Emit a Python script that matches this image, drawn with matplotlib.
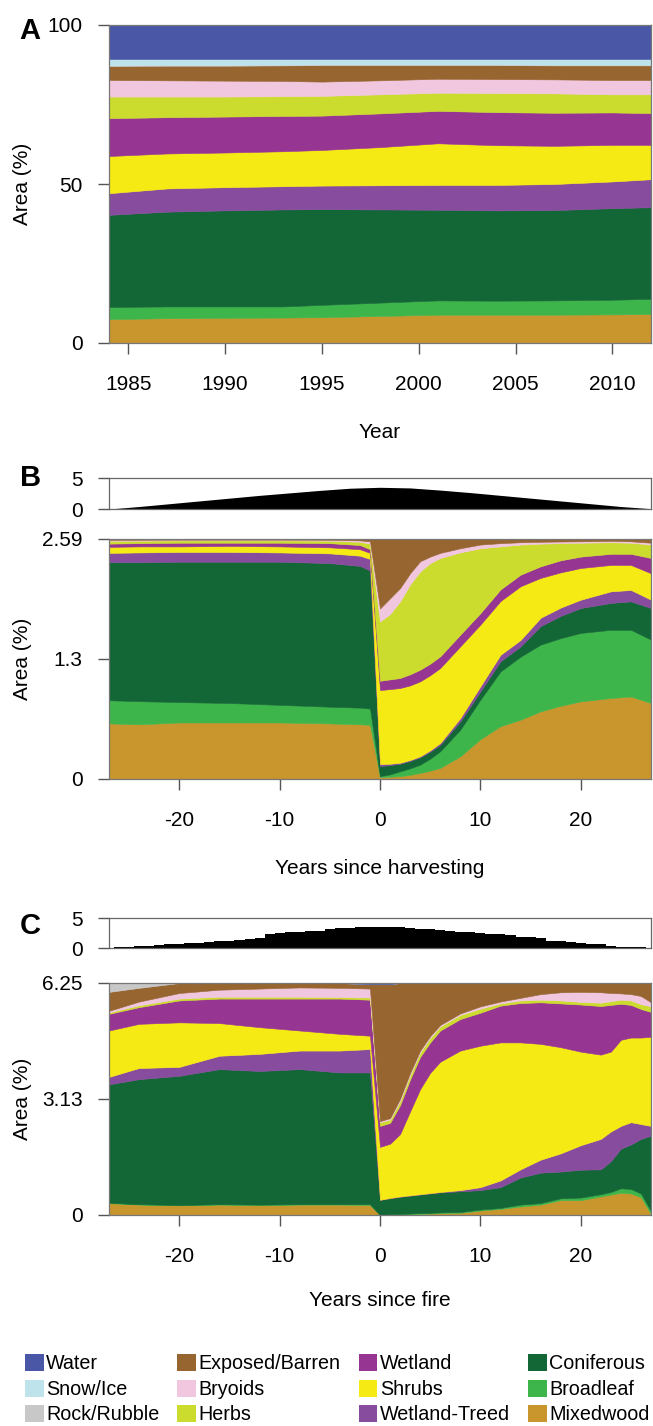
import numpy as np
import matplotlib
matplotlib.use('Agg')
import matplotlib.pyplot as plt
from matplotlib.patches import Patch

plt.rcParams['font.family'] = ['Liberation Sans', 'DejaVu Sans']
plt.rcParams['font.size'] = 15
plt.rcParams['axes.unicode_minus'] = False

# land cover classes, legend order
classes = ['Water', 'Snow/Ice', 'Rock/Rubble', 'Exposed/Barren', 'Bryoids', 'Herbs',
           'Wetland', 'Shrubs', 'Wetland-Treed', 'Coniferous', 'Broadleaf', 'Mixedwood']
class_colors = ['#4957a6', '#bfe3ea', '#c8c8c8', '#976530', '#f1c7df', '#ccdc2e',
                '#973592', '#f6ea14', '#874c9e', '#136636', '#3eb54a', '#c9952d']
col = dict(zip(classes, class_colors))

# ---- panel A: upper edge of each stacked band (% area) ----
a_years = [1984, 1987, 1990, 1993, 1995, 1998, 2001, 2004, 2007, 2010, 2012]
a_mixedwood = [7.5, 7.8, 7.9, 8.0, 8.1, 8.5, 8.9, 8.9, 8.9, 9.0, 9.1]
a_broadleaf = [11.3, 11.5, 11.5, 11.5, 12.0, 12.7, 13.4, 13.3, 13.4, 13.6, 13.9]
a_coniferous = [40.3, 41.3, 41.7, 42.0, 42.1, 42.0, 41.9, 41.7, 41.8, 42.4, 42.7]
a_wettreed = [47.1, 48.6, 49.0, 49.3, 49.5, 49.6, 49.7, 49.7, 50.0, 50.8, 51.5]
a_shrubs = [58.8, 59.6, 59.9, 60.3, 60.7, 61.6, 62.8, 62.2, 62.0, 62.3, 62.3]
a_wetland = [70.7, 71.0, 71.2, 71.4, 71.5, 72.2, 73.0, 72.6, 72.4, 72.5, 72.3]
a_herbs = [77.5, 77.5, 77.5, 77.6, 77.7, 78.2, 78.7, 78.6, 78.5, 78.2, 78.2]
a_bryoids = [82.7, 82.6, 82.5, 82.4, 82.2, 82.6, 83.1, 83.0, 82.9, 82.7, 82.7]
a_exposed = [87.1, 87.2, 87.2, 87.3, 87.4, 87.4, 87.4, 87.4, 87.3, 87.3, 87.3]
a_rock = [87.3, 87.4, 87.4, 87.5, 87.6, 87.6, 87.6, 87.6, 87.5, 87.5, 87.5]
a_snow = [89.3, 89.3, 89.3, 89.3, 89.3, 89.3, 89.3, 89.3, 89.3, 89.3, 89.3]
a_water = [100] * 11

# ---- panel B: harvesting ----
b_hist_t = [-27, -24, -21, -18, -15, -12, -9, -6, -3, 0, 3, 6, 9, 12, 15, 18, 21, 24, 27]
b_hist = [0.0, 0.4, 0.85, 1.3, 1.75, 2.2, 2.6, 3.0, 3.35, 3.5, 3.4, 3.05, 2.65, 2.2,
          1.75, 1.3, 0.85, 0.4, 0.05]

b_t = [-27, -24, -20, -15, -10, -5, -2, -1, 0, 1, 2, 3, 4, 5, 6, 8, 10, 12, 14, 16, 18,
       20, 23, 25, 27]
b_mixedwood = [0.60, 0.59, 0.61, 0.61, 0.61, 0.60, 0.59, 0.585, 0.02, 0.025, 0.03, 0.045,
               0.065, 0.09, 0.12, 0.245, 0.43, 0.57, 0.64, 0.73, 0.79, 0.838, 0.874, 0.89,
               0.82]
b_broadleaf = [0.85, 0.84, 0.83, 0.82, 0.80, 0.78, 0.77, 0.76, 0.03, 0.05, 0.083, 0.115,
               0.155, 0.22, 0.30, 0.532, 0.856, 1.16, 1.32, 1.45, 1.52, 1.576, 1.61, 1.61,
               1.504]
b_coniferous = [2.34, 2.34, 2.345, 2.345, 2.345, 2.33, 2.30, 2.25, 0.14, 0.15, 0.165, 0.195,
                0.235, 0.295, 0.37, 0.622, 0.946, 1.27, 1.43, 1.65, 1.76, 1.845, 1.90,
                1.917, 1.845]
b_wettreed = [2.44, 2.445, 2.45, 2.45, 2.445, 2.435, 2.41, 2.375, 0.16, 0.165, 0.175, 0.205,
              0.245, 0.31, 0.389, 0.658, 1.0, 1.34, 1.50, 1.74, 1.85, 1.935, 2.025, 2.04,
              1.935]
b_shrubs = [2.505, 2.51, 2.51, 2.515, 2.51, 2.50, 2.48, 2.44, 0.96, 0.97, 0.982, 1.01,
            1.054, 1.12, 1.198, 1.432, 1.666, 1.92, 2.08, 2.17, 2.23, 2.277, 2.31, 2.31, 2.22]
b_wetland = [2.54, 2.545, 2.55, 2.55, 2.55, 2.545, 2.525, 2.48, 1.06, 1.075, 1.09, 1.13,
             1.18, 1.245, 1.324, 1.558, 1.79, 2.045, 2.205, 2.295, 2.36, 2.40, 2.43, 2.43,
             2.385]
b_herbs = [2.57, 2.572, 2.575, 2.575, 2.575, 2.572, 2.56, 2.54, 1.70, 1.78, 1.917, 2.10,
           2.24, 2.33, 2.385, 2.446, 2.49, 2.51, 2.53, 2.54, 2.545, 2.55, 2.555, 2.55, 2.53]
b_bryoids = [2.58, 2.582, 2.583, 2.583, 2.583, 2.582, 2.575, 2.565, 1.84, 1.95, 2.06, 2.22,
             2.35, 2.40, 2.44, 2.49, 2.53, 2.545, 2.555, 2.56, 2.563, 2.565, 2.57, 2.565,
             2.55]
b_exposed = [2.59] * len(b_t)

# ---- panel C: fire ----
c_hist_t = list(range(-27, 28))
c_hist = [0.0, 0.1, 0.2, 0.3, 0.4, 0.5, 0.6, 0.7, 0.8, 0.9, 1.0, 1.1, 1.25, 1.4, 1.55, 1.7,
          2.4, 2.5, 2.6, 2.7, 2.8, 2.85, 3.2, 3.3, 3.4, 3.45, 3.5, 3.5, 3.5, 3.45, 3.35,
          3.25, 3.15, 3.0, 2.9, 2.75, 2.6, 2.5, 2.4, 2.3, 2.2, 1.9, 1.85, 1.75, 1.2, 1.1,
          1.0, 0.9, 0.75, 0.6, 0.4, 0.25, 0.15, 0.1, 0.05]

c_t = [-27, -24, -20, -16, -12, -8, -4, -1, 0, 1, 2, 3, 4, 5, 6, 8, 10, 12, 14, 16, 18,
       20, 22, 23, 24, 25, 26, 27]
c_mixedwood = [0.32, 0.28, 0.26, 0.28, 0.27, 0.28, 0.28, 0.27, 0.0, 0.01, 0.02, 0.02, 0.03,
               0.04, 0.05, 0.06, 0.12, 0.165, 0.23, 0.28, 0.40, 0.40, 0.50, 0.55, 0.60,
               0.58, 0.48, 0.02]
c_broadleaf = [0.33, 0.29, 0.27, 0.29, 0.28, 0.29, 0.29, 0.29, 0.0, 0.02, 0.03, 0.04, 0.05,
               0.06, 0.07, 0.08, 0.147, 0.19, 0.28, 0.32, 0.45, 0.47, 0.56, 0.62, 0.72,
               0.70, 0.58, 0.10]
c_coniferous = [3.52, 3.66, 3.75, 3.93, 3.88, 3.93, 3.84, 3.84, 0.41, 0.45, 0.49, 0.52, 0.55,
                0.58, 0.61, 0.64, 0.67, 0.75, 1.01, 1.14, 1.17, 1.22, 1.23, 1.45, 1.79,
                1.90, 2.05, 2.14]
c_wettreed = [3.72, 3.96, 3.99, 4.29, 4.34, 4.43, 4.43, 4.47, 0.41, 0.46, 0.50, 0.53, 0.56,
              0.59, 0.62, 0.67, 0.75, 0.93, 1.23, 1.49, 1.66, 1.88, 2.05, 2.25, 2.40,
              2.50, 2.45, 2.40]
c_shrubs = [4.97, 5.15, 5.19, 5.17, 5.06, 4.97, 4.88, 4.83, 1.835, 1.92, 2.18, 2.79, 3.39,
            3.83, 4.13, 4.43, 4.56, 4.65, 4.65, 4.61, 4.52, 4.40, 4.32, 4.40, 4.72, 4.78,
            4.78, 4.80]
c_wetland = [5.42, 5.60, 5.78, 5.83, 5.83, 5.83, 5.83, 5.80, 2.40, 2.48, 2.96, 3.65, 4.26,
             4.65, 4.97, 5.28, 5.45, 5.64, 5.71, 5.73, 5.70, 5.67, 5.63, 5.66, 5.69, 5.66,
             5.55, 5.47]
c_herbs = [5.46, 5.65, 5.83, 5.88, 5.88, 5.88, 5.87, 5.86, 2.50, 2.57, 3.07, 3.77, 4.38,
           4.77, 5.08, 5.39, 5.56, 5.70, 5.78, 5.80, 5.78, 5.74, 5.72, 5.76, 5.80, 5.78,
           5.68, 5.62]
c_bryoids = [5.50, 5.75, 5.98, 6.07, 6.10, 6.13, 6.12, 6.10, 2.53, 2.61, 3.13, 3.83, 4.43,
             4.82, 5.12, 5.43, 5.62, 5.75, 5.85, 5.95, 6.00, 6.01, 6.00, 5.98, 5.97, 5.95,
             5.90, 5.73]
c_exposed = [6.01, 6.12, 6.25, 6.25, 6.25, 6.25, 6.25, 6.22, 6.22, 6.22, 6.25, 6.25, 6.25,
             6.25, 6.25, 6.25, 6.25, 6.25, 6.25, 6.25, 6.25, 6.25, 6.25, 6.25, 6.25, 6.25,
             6.25, 6.25]
c_rock = [6.25, 6.25] + c_exposed[2:7] + [6.22, 6.22, 6.22] + c_exposed[10:]
c_water = [6.25] * len(c_t)

a_layers = [('Mixedwood', a_mixedwood), ('Broadleaf', a_broadleaf), ('Coniferous', a_coniferous),
            ('Wetland-Treed', a_wettreed), ('Shrubs', a_shrubs), ('Wetland', a_wetland),
            ('Herbs', a_herbs), ('Bryoids', a_bryoids), ('Exposed/Barren', a_exposed),
            ('Rock/Rubble', a_rock), ('Snow/Ice', a_snow), ('Water', a_water)]
b_layers = [('Mixedwood', b_mixedwood), ('Broadleaf', b_broadleaf), ('Coniferous', b_coniferous),
            ('Wetland-Treed', b_wettreed), ('Shrubs', b_shrubs), ('Wetland', b_wetland),
            ('Herbs', b_herbs), ('Bryoids', b_bryoids), ('Exposed/Barren', b_exposed)]
c_layers = [('Mixedwood', c_mixedwood), ('Broadleaf', c_broadleaf), ('Coniferous', c_coniferous),
            ('Wetland-Treed', c_wettreed), ('Shrubs', c_shrubs), ('Wetland', c_wetland),
            ('Herbs', c_herbs), ('Bryoids', c_bryoids), ('Exposed/Barren', c_exposed),
            ('Rock/Rubble', c_rock), ('Water', c_water)]

W, H = 653, 1426
fig = plt.figure(figsize=(W / 100, H / 100), dpi=100)

AX_L, AX_R = 109, 651


def add_axes(top, bottom):
    return fig.add_axes([AX_L / W, 1 - bottom / H, (AX_R - AX_L) / W, (bottom - top) / H])


def style(ax, spine_col='#777777'):
    for s in ax.spines.values():
        s.set_color(spine_col)
        s.set_linewidth(0.9)
    ax.tick_params(direction='out', length=8, width=1, color='#555555', labelsize=15)
    ax.tick_params(axis='x', pad=15)
    ax.tick_params(axis='y', pad=11)


def draw_stack(ax, x, layers):
    lower = np.zeros(len(x))
    for name, upper in layers:
        upper = np.asarray(upper, dtype=float)
        ax.fill_between(x, lower, upper, facecolor=col[name], edgecolor=col[name], lw=0.4)
        lower = upper


def small_panel(ax, t, vals, step=None):
    ax.fill_between(t, 0, vals, color='black', lw=0, step=step)
    ax.set_xlim(-27, 27)
    ax.set_ylim(0, 5)
    ax.set_yticks([0, 5])
    ax.set_yticklabels(['0', '5'])
    ax.set_xticks([])
    style(ax, '#666666')


# panel A
axA = add_axes(25, 343)
draw_stack(axA, a_years, a_layers)
axA.set_xlim(1984, 2012)
axA.set_ylim(0, 100)
axA.set_xticks([1985, 1990, 1995, 2000, 2005, 2010])
axA.set_yticks([0, 50, 100])
axA.set_xlabel('Year')
axA.set_ylabel('Area (%)')
axA.xaxis.set_label_coords(0.5, (343 - 432) / 318)
axA.yaxis.set_label_coords((22 - AX_L) / (AX_R - AX_L), 0.5)
style(axA)

# panel B
axBs = add_axes(478, 509)
small_panel(axBs, b_hist_t, b_hist)
axB = add_axes(539, 779)
draw_stack(axB, b_t, b_layers)
axB.set_xlim(-27, 27)
axB.set_ylim(0, 2.59)
axB.set_xticks([-20, -10, 0, 10, 20])
axB.set_yticks([0, 1.3, 2.59])
axB.set_yticklabels(['0', '1.3', '2.59'])
axB.set_xlabel('Years since harvesting')
axB.set_ylabel('Area (%)')
axB.xaxis.set_label_coords(0.5, (779 - 868) / 240)
axB.yaxis.set_label_coords((22 - AX_L) / (AX_R - AX_L), 0.5)
style(axB)

# panel C
axCs = add_axes(918, 948)
small_panel(axCs, c_hist_t, c_hist, step='mid')
axC = add_axes(983, 1215)
draw_stack(axC, c_t, c_layers)
axC.set_xlim(-27, 27)
axC.set_ylim(0, 6.25)
axC.set_xticks([-20, -10, 0, 10, 20])
axC.set_yticks([0, 3.13, 6.25])
axC.set_yticklabels(['0', '3.13', '6.25'])
axC.set_xlabel('Years since fire')
axC.set_ylabel('Area (%)')
axC.xaxis.set_label_coords(0.5, (1215 - 1300) / 232)
axC.yaxis.set_label_coords((22 - AX_L) / (AX_R - AX_L), 0.5)
style(axC)

for ax in (axA, axB, axC):
    ax.xaxis.label.set_va('center')
    ax.yaxis.label.set_va('center')

# panel letters
for letter, (x, y) in zip('ABC', [(30, 31), (31, 478), (30, 926)]):
    fig.text(x / W, 1 - y / H, letter, fontsize=21, fontweight='bold', ha='center', va='center')

handles = [Patch(facecolor=col[c], edgecolor='none') for c in classes]
fig.legend(handles, classes, ncol=4, loc='upper left', frameon=False,
           bbox_to_anchor=(25 / W, 1 - 1354 / H), handlelength=0.95, handleheight=0.95,
           handletextpad=0.12, columnspacing=0.92, labelspacing=0.32, borderpad=0,
           borderaxespad=0, fontsize=14.2)

fig.savefig('out.png', dpi=100)
